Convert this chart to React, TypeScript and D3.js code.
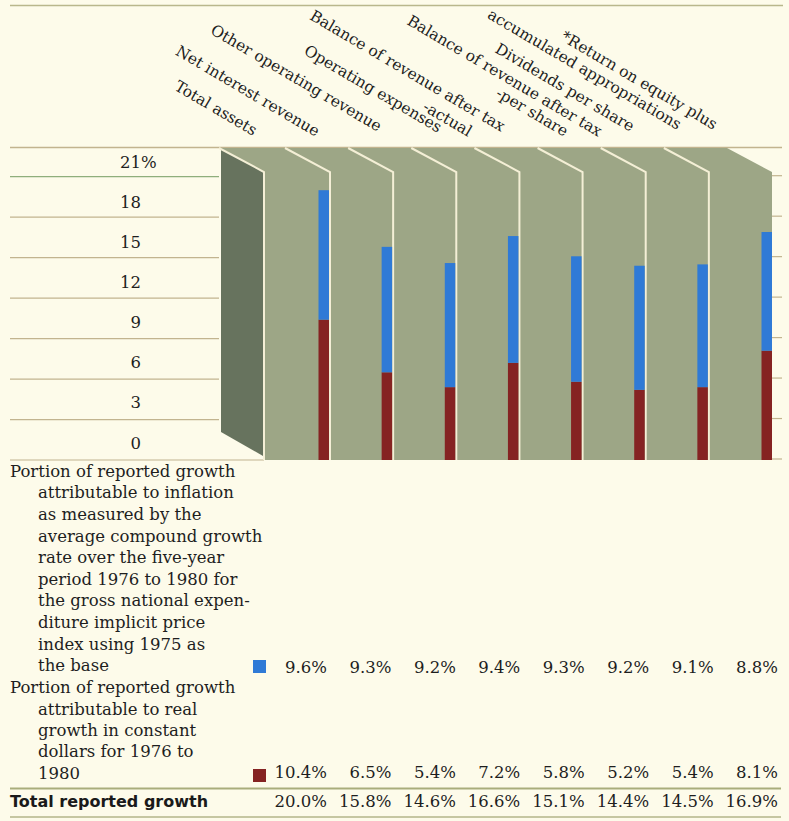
import React from "react";
import * as d3 from "d3";

// ---------- data ----------
const categories: string[][] = [
  ["Total assets"],
  ["Net interest revenue"],
  ["Other operating revenue"],
  ["Operating expenses"],
  ["Balance of revenue after tax", "-actual"],
  ["Balance of revenue after tax", "-per share"],
  ["Dividends per share"],
  ["*Return on equity plus", "accumulated appropriations"],
];
const inflationGrowth = [9.6, 9.3, 9.2, 9.4, 9.3, 9.2, 9.1, 8.8];
const realGrowth = [10.4, 6.5, 5.4, 7.2, 5.8, 5.2, 5.4, 8.1];
const totalGrowth = [20.0, 15.8, 14.6, 16.6, 15.1, 14.4, 14.5, 16.9];
const yTicks = [0, 3, 6, 9, 12, 15, 18, 21];
const inflationNote = [
  "Portion of reported growth",
  "attributable to inflation",
  "as measured by the",
  "average compound growth",
  "rate over the five-year",
  "period 1976 to 1980 for",
  "the gross national expen-",
  "diture implicit price",
  "index using 1975 as",
  "the base",
];
const realNote = [
  "Portion of reported growth",
  "attributable to real",
  "growth in constant",
  "dollars for 1976 to",
  "1980",
];
const totalLabel = "Total reported growth";

// ---------- layout / style ----------
const W = 789;
const H = 821;
const BG = "#fdfbea";
const GREEN = "#9da686";
const DARK = "#67735e";
const BLUE = "#2f7ad6";
const RED = "#852322";
const CREAM_LINE = "#f4efd6";
const RULE = "#c2b48f";
const TEXT = "#1e1e1e";
const SERIF = "'DejaVu Serif', serif";
const SANS = "'DejaVu Sans', sans-serif";

const TOP = 148; // top of the panels
const SLANT_X = 45;
const SLANT_Y = 24;
const PANEL_LEFT = 264;
const ANGLE = 30.5;

// label end offsets (relative to column top centre) for each line
const labelOffsets: number[][][] = [
  [[1, -12]],
  [[-1, -11]],
  [[-2, -16]],
  [[-5, -15]],
  [[-5, -16], [-38, -11]],
  [[29, -11], [-5, -11]],
  [[-2, -16]],
  [[18, -18], [-18, -18]],
];

export default function App() {
  const n = categories.length;
  const y = d3.scaleLinear().domain([0, 21]).range([460, 176.7]);
  const divider = d3.scaleLinear().domain([1, n]).range([330, 772]);
  const tableX = d3.scaleLinear().domain([1, n]).range([327, 778]);
  const dividerAt = (i: number) => (i === 0 ? PANEL_LEFT : divider(i));
  const right = divider(n);
  const bottom = y(0);

  const barW = 10.5;

  const greenPath = d3.path();
  greenPath.moveTo(PANEL_LEFT - SLANT_X, TOP);
  greenPath.lineTo(right - SLANT_X, TOP);
  greenPath.lineTo(right, TOP + SLANT_Y);
  greenPath.lineTo(right, bottom);
  greenPath.lineTo(PANEL_LEFT, bottom);
  greenPath.lineTo(PANEL_LEFT, TOP + SLANT_Y);
  greenPath.closePath();

  const darkPath = d3.path();
  darkPath.moveTo(PANEL_LEFT - SLANT_X + 2, TOP);
  darkPath.lineTo(PANEL_LEFT - 1, TOP + SLANT_Y);
  darkPath.lineTo(PANEL_LEFT - 1, bottom - 4);
  darkPath.lineTo(PANEL_LEFT - SLANT_X + 2, bottom - 4 - SLANT_Y);
  darkPath.closePath();

  const lineH = 21.6;
  const labelBase = (t: number) => y(t) - 11.5 + t * (3 / 21);

  return (
    <svg
      width={W}
      height={H}
      style={{ position: "absolute", left: 0, top: 0, display: "block" }}
    >
      <rect x={0} y={0} width={W} height={H} fill={BG} />
      {/* top rule */}
      <line x1={10} x2={783} y1={5.5} y2={5.5} stroke="#b9b78c" strokeWidth={1.5} />

      {/* left grid rules */}
      <line x1={10} x2={782} y1={TOP - 0.5} y2={TOP - 0.5} stroke={RULE} strokeWidth={1.3} />
      {yTicks.map((t) => (
        <g key={"g" + t}>
          <line
            x1={10}
            x2={t === 0 ? PANEL_LEFT : PANEL_LEFT - SLANT_X}
            y1={y(t)}
            y2={y(t)}
            stroke={t === 21 ? "#8fae7c" : RULE}
            strokeWidth={1.2}
          />
          <line x1={right} x2={782} y1={y(t) - 1} y2={y(t) - 1} stroke={RULE} strokeWidth={1.2} />
        </g>
      ))}

      {/* panels */}
      <path d={greenPath.toString()} fill={GREEN} />
      <path d={darkPath.toString()} fill={DARK} />

      {/* dividers */}
      {d3.range(0, n).map((i) => {
        const d = dividerAt(i);
        return (
          <polyline
            key={"d" + i}
            points={`${d - SLANT_X},${TOP} ${d},${TOP + SLANT_Y} ${d},${bottom}`}
            fill="none"
            stroke={CREAM_LINE}
            strokeWidth={2}
          />
        );
      })}

      {/* bars */}
      {d3.range(0, n).map((i) => {
        const xr = dividerAt(i + 1) - (i === n - 1 ? 0 : 1);
        const x0 = xr - barW;
        return (
          <g key={"b" + i}>
            <rect x={x0} y={y(realGrowth[i])} width={barW} height={bottom - y(realGrowth[i])} fill={RED} />
            <rect
              x={x0}
              y={y(realGrowth[i] + inflationGrowth[i])}
              width={barW}
              height={y(realGrowth[i]) - y(realGrowth[i] + inflationGrowth[i])}
              fill={BLUE}
            />
          </g>
        );
      })}

      {/* y axis labels */}
      {yTicks.map((t) => (
        <g key={"yl" + t} fontFamily={SERIF} fontSize={16.5} fill={TEXT}>
          <text x={141} y={labelBase(t)} textAnchor="end">
            {t}
          </text>
          {t === 21 && (
            <text x={141} y={labelBase(t)}>
              %
            </text>
          )}
        </g>
      ))}

      {/* rotated category labels */}
      {categories.map((lines, i) => {
        const cx = (dividerAt(i) + dividerAt(i + 1)) / 2 - SLANT_X;
        return lines.map((ln, j) => {
          const [dx, dy] = labelOffsets[i][j];
          const ex = cx + dx;
          const ey = TOP + dy;
          return (
            <text
              key={"c" + i + "-" + j}
              x={ex}
              y={ey}
              textAnchor="end"
              transform={`rotate(${ANGLE},${ex},${ey})`}
              fontFamily={SERIF}
              fontSize={15.5}
              fill={TEXT}
            >
              {ln}
            </text>
          );
        });
      })}

      {/* notes */}
      {inflationNote.map((ln, j) => (
        <text
          key={"in" + j}
          x={j === 0 ? 10 : 38}
          y={476.7 + j * lineH}
          fontFamily={SERIF}
          fontSize={16.5}
          fill={TEXT}
        >
          {ln}
        </text>
      ))}
      {realNote.map((ln, j) => (
        <text
          key={"rn" + j}
          x={j === 0 ? 10 : 38}
          y={693.3 + j * 21.3}
          fontFamily={SERIF}
          fontSize={16.5}
          fill={TEXT}
        >
          {ln}
        </text>
      ))}

      {/* legend squares */}
      <rect x={253} y={660} width={13} height={13} fill={BLUE} />
      <rect x={253} y={769} width={13} height={13} fill={RED} />

      {/* table values */}
      {inflationGrowth.map((v, i) => (
        <text key={"iv" + i} x={tableX(i + 1)} y={673} textAnchor="end" fontFamily={SERIF} fontSize={16.5} fill={TEXT}>
          {v.toFixed(1) + "%"}
        </text>
      ))}
      {realGrowth.map((v, i) => (
        <text key={"rv" + i} x={tableX(i + 1)} y={778} textAnchor="end" fontFamily={SERIF} fontSize={16.5} fill={TEXT}>
          {v.toFixed(1) + "%"}
        </text>
      ))}
      <line x1={10} x2={781} y1={788.5} y2={788.5} stroke="#a9ad7c" strokeWidth={2} />
      <text x={10} y={806.5} fontFamily={SANS} fontWeight="bold" fontSize={16} fill="#1a1a1a">
        {totalLabel}
      </text>
      {totalGrowth.map((v, i) => (
        <text key={"tv" + i} x={tableX(i + 1)} y={806.5} textAnchor="end" fontFamily={SERIF} fontSize={16.5} fill={TEXT}>
          {v.toFixed(1) + "%"}
        </text>
      ))}
      <line x1={10} x2={781} y1={817} y2={817} stroke="#b3b68a" strokeWidth={1.5} />
    </svg>
  );
}
